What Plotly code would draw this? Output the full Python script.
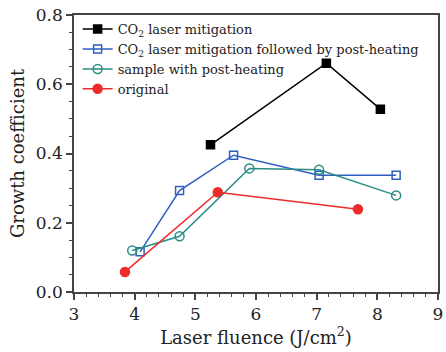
import plotly.graph_objects as go

names = ["CO<sub>2</sub> laser mitigation",
         "CO<sub>2</sub> laser mitigation followed by post-heating",
         "sample with post-heating",
         "original"]

x_co2 = [5.25, 7.16, 8.05]
y_co2 = [0.425, 0.661, 0.528]

x_co2_heat = [4.09, 4.74, 5.63, 7.04, 8.31]
y_co2_heat = [0.116, 0.293, 0.395, 0.337, 0.337]

x_heat = [3.96, 4.74, 5.89, 7.04, 8.31]
y_heat = [0.120, 0.161, 0.357, 0.353, 0.279]

x_orig = [3.84, 5.37, 7.68]
y_orig = [0.058, 0.288, 0.239]

colors = ["#000000", "#2f5fbf", "#2a8c85", "#ee2a2a"]
symbols = ["square", "square-open", "circle-open", "circle"]
sizes = [8, 8, 9, 9]

FONT = "DejaVu Serif"

fig = go.Figure()
for xs, ys, nm, c, s, sz in zip([x_co2, x_co2_heat, x_heat, x_orig],
                                [y_co2, y_co2_heat, y_heat, y_orig],
                                names, colors, symbols, sizes):
    fig.add_trace(go.Scatter(
        x=xs, y=ys, name=nm, mode="lines+markers",
        line=dict(color=c, width=1.5),
        marker=dict(symbol=s, size=sz, color=c,
                    line=dict(color=c, width=1.5)),
    ))

axis_common = dict(
    showline=True, linecolor="#444444", linewidth=1.5, mirror=True,
    showgrid=False, zeroline=False,
    ticks="outside", ticklen=6, tickwidth=1.5, tickcolor="#444444",
    tickfont=dict(family=FONT, size=17, color="#222222"),
    ticklabeloverflow="allow",
    minor=dict(ticks="outside", ticklen=3, tickwidth=1.2, tickcolor="#444444"),
)

fig.update_xaxes(range=[3, 9], dtick=1, tick0=3,
                 title=dict(text="Laser fluence (J/cm<sup>2</sup>)",
                            font=dict(family=FONT, size=18, color="#222222"),
                            standoff=4),
                 **axis_common)
fig.update_yaxes(range=[0, 0.8], dtick=0.2, tickformat=".1f",
                 title=dict(text="Growth coefficient",
                            font=dict(family=FONT, size=18, color="#222222"),
                            standoff=7),
                 **axis_common)

fig.update_layout(
    width=446, height=352,
    margin=dict(l=74, r=3, t=15, b=60),
    plot_bgcolor="white", paper_bgcolor="white",
    font=dict(family=FONT, color="#222222"),
    legend=dict(x=0.01, y=1.003, xanchor="left", yanchor="top",
                bgcolor="rgba(0,0,0,0)", borderwidth=0,
                font=dict(family=FONT, size=13, color="#222222"),
                tracegroupgap=0, itemwidth=30),
    showlegend=True,
)

fig.write_html("out.html")
